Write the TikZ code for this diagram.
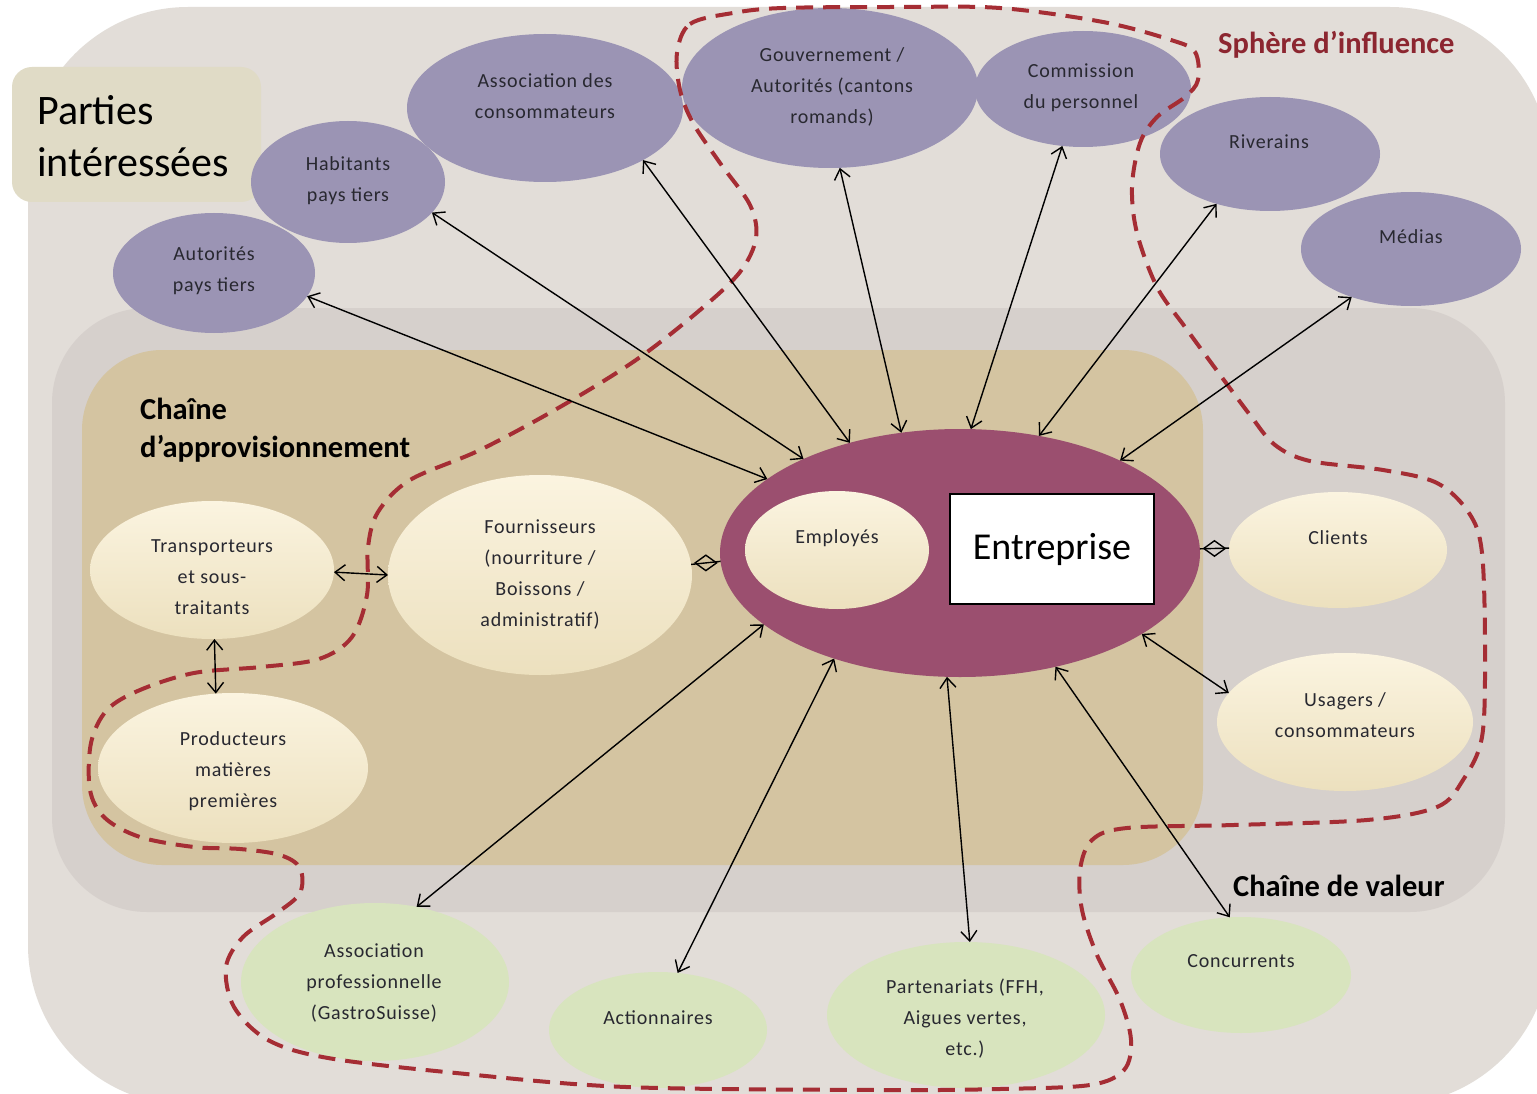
\documentclass[tikz,border=0pt]{standalone}
\usepackage{fontspec}
\setmainfont{Carlito}
\newfontfamily\smallf[LetterSpace=4]{Carlito}
\usetikzlibrary{shapes.geometric,arrows.meta}
\definecolor{bgOuter}{RGB}{226,221,216}
\definecolor{bgMid}{RGB}{214,208,204}
\definecolor{bgTan}{RGB}{212,196,161}
\definecolor{purp}{RGB}{155,148,180}
\definecolor{entC}{RGB}{155,79,111}
\definecolor{creamT}{RGB}{251,244,224}
\definecolor{creamB}{RGB}{236,224,190}
\definecolor{greenC}{RGB}{216,228,190}
\definecolor{labelC}{RGB}{224,219,198}
\definecolor{dashC}{RGB}{165,45,52}
\definecolor{sphereC}{RGB}{140,38,48}
\definecolor{txtC}{RGB}{40,40,48}
\begin{document}
\begin{tikzpicture}[x=1pt,y=-1pt,
 ov/.style={ellipse, inner sep=0pt, outer sep=0pt},
 purpov/.style={ov, fill=purp},
 creamov/.style={ov, top color=creamT, bottom color=creamB},
 greenov/.style={ov, fill=greenC},
 lbl/.style={font=\smallf\fontsize{20}{31}\selectfont, align=center, text=txtC, inner sep=0pt},
 link/.style={{Straight Barb[length=10pt,width=16pt]}-{Straight Barb[length=10pt,width=16pt]}, line width=1.4pt, black},
 diamondmark/.style={diamond, draw=black, line width=1.4pt, inner sep=0pt, minimum width=22pt, minimum height=16pt},
 title/.style={font=\bfseries\fontsize{30.5}{38}\selectfont, align=left, inner sep=0pt, anchor=west}
]
\useasboundingbox (0,0) rectangle (1537,1094);
\clip (0,0) rectangle (1537,1094);
\fill[white] (0,0) rectangle (1537,1094);
\fill[bgOuter, rounded corners=160pt] (28,7) rectangle (1550,1105);
\fill[bgMid, rounded corners=95pt] (52,308) rectangle (1505,912);
\fill[bgTan, rounded corners=80pt] (82,350) rectangle (1203,865);

% label box
\node[fill=labelC, rounded corners=20pt, minimum width=249pt, minimum height=135pt, inner sep=0pt] (lab) at (136.5,134.5) {};
\node[font=\fontsize{42}{52}\selectfont, align=left, anchor=west, inner sep=0pt] (labT) at (37,136) {Parties\\intéressées};

% purple ellipses
\node[purpov, minimum width=202pt, minimum height=120pt] (aut) at (214,273) {};
\node[lbl] (autT) at (214,271) {Autorités\\pays tiers};
\node[purpov, minimum width=194pt, minimum height=122pt] (hab) at (348,182) {};
\node[lbl] (habT) at (348,181) {Habitants\\pays tiers};
\node[purpov, minimum width=276pt, minimum height=148pt] (aco) at (545,108) {};
\node[lbl] (acoT) at (545,96) {Association des\\consommateurs};
\node[purpov, minimum width=296pt, minimum height=160pt] (gov) at (830,88) {};
\node[lbl] (govT) at (832,87) {Gouvernement /\\Autorités (cantons\\romands)};
\node[purpov, minimum width=216pt, minimum height=116pt] (com) at (1083,89) {};
\node[lbl] (comT) at (1081,88) {Commission\\du personnel};
\node[purpov, minimum width=220pt, minimum height=114pt] (riv) at (1270,154) {};
\node[lbl] (rivT) at (1269,142) {Riverains};
\node[purpov, minimum width=220pt, minimum height=114pt] (med) at (1411,249) {};
\node[lbl] (medT) at (1411,237) {Médias};

% supply chain
\node[creamov, minimum width=244pt, minimum height=138pt] (tra) at (212,570) {};
\node[lbl] (traT) at (212,577) {Transporteurs\\et sous-\\traitants};
\node[creamov, minimum width=304pt, minimum height=200pt] (fou) at (540,575) {};
\node[lbl] (fouT) at (540,575) {Fournisseurs\\(nourriture /\\Boissons /\\administratif)};
\node[creamov, minimum width=270pt, minimum height=150pt] (pro) at (233,768) {};
\node[lbl] (proT) at (233,771) {Producteurs\\matières\\premières};

% enterprise
\node[ov, fill=entC, minimum width=480pt, minimum height=248pt] (ent) at (960,553) {};
\node[creamov, minimum width=184pt, minimum height=118pt] (emp) at (837,550) {};
\node[lbl] (empT) at (837,538) {Employés};
\node[draw=black, line width=1.8pt, fill=white, minimum width=204pt, minimum height=110pt, inner sep=0pt, font=\fontsize{38}{42}\selectfont] (box) at (1052,549) {Entreprise};

% value chain right
\node[creamov, minimum width=218pt, minimum height=116pt] (cli) at (1338,550) {};
\node[lbl] (cliT) at (1338,538) {Clients};
\node[creamov, minimum width=256pt, minimum height=138pt] (usa) at (1345,722) {};
\node[lbl] (usaT) at (1345,715) {Usagers /\\consommateurs};

% green ellipses
\node[greenov, minimum width=268pt, minimum height=158pt] (apr) at (375,982) {};
\node[lbl] (aprT) at (374,983) {Association\\professionnelle\\(GastroSuisse)};
\node[greenov, minimum width=218pt, minimum height=116pt] (act) at (658,1030) {};
\node[lbl] (actT) at (658,1018) {Actionnaires};
\node[greenov, minimum width=278pt, minimum height=146pt] (par) at (966,1015) {};
\node[lbl] (parT) at (965,1019) {Partenariats (FFH,\\Aigues vertes,\\etc.)};
\node[greenov, minimum width=220pt, minimum height=116pt] (con) at (1241,975) {};
\node[lbl] (conT) at (1241,961) {Concurrents};

% titles
\node[title] (chaT) at (140,430) {Chaîne\\d’approvisionnement};
\node[title, text=sphereC] (sphT) at (1218,45) {Sphère d’influence};
\node[title] (cdvT) at (1233,886) {Chaîne de valeur};

% dashed sphere of influence
\draw[dashC, line width=4pt, dash pattern=on 17pt off 10pt] plot[smooth cycle, tension=0.55] coordinates {
(677,53) (690,24) (733,13) (783,8) (900,7) (1000,8) (1103,22) (1171,40) (1195,52) (1198,80)
(1185,97) (1157,117) (1140,143) (1132,187) (1137,233) (1157,287) (1185,327) (1215,368)
(1250,415) (1275,445) (1310,461) (1383,470) (1437,483) (1469,513) (1482,553) (1485,653)
(1482,737) (1463,780) (1437,807) (1367,820) (1234,825) (1127,828) (1092,840) (1080,870)
(1082,910) (1097,955) (1120,1000) (1131,1040) (1124,1070) (1090,1085) (1000,1089) (882,1090)
(626,1087) (456,1073) (328,1058) (268,1040) (234,1007) (226,967) (243,937) (277,913)
(300,893) (300,868) (280,855) (240,849) (194,847) (140,837) (105,818) (90,790) (91,743)
(107,710) (140,690) (194,673) (261,667) (319,659) (352,637) (367,595) (368,547) (378,512)
(410,480) (480,450) (560,407) (636,360) (700,310) (740,272) (756,238) (750,205) (720,163)
(693,123) (680,90)};

% connectors
\draw[link] (aut.-14.6) -- (ent.159.7);
\draw[link] (hab.-20.6) -- (ent.149.8);
\draw[link] (aco.-28.4) -- (ent.135.5);
\draw[link] (gov.-83) -- (ent.116.9);
\draw[link] (com.-110.9) -- (ent.85.5);
\draw[link] (riv.-137.2) -- (ent.56.1);
\draw[link] (med.-141.8) -- (ent.30.2);
\draw[link] (usa.166.9) -- (ent.-24.1);
\draw[link] (con.101.7) -- (ent.-50.5);
\draw[link] (par.87) -- (ent.-96.7);
\draw[link] (act.71.6) -- (ent.-140.1);
\draw[link] (apr.61.4) -- (ent.200.3);
\draw[link] (tra.-1.5) -- (fou.180);
\draw[link] (tra.-88) -- (pro.103.5);
\draw[line width=1.4pt] (fou.4) -- (ent.182.6) node[midway, diamondmark] (d1) {};
\draw[line width=1.4pt] (ent.1.2) -- (cli.179) node[midway, diamondmark] (d2) {};
\end{tikzpicture}
\end{document}
